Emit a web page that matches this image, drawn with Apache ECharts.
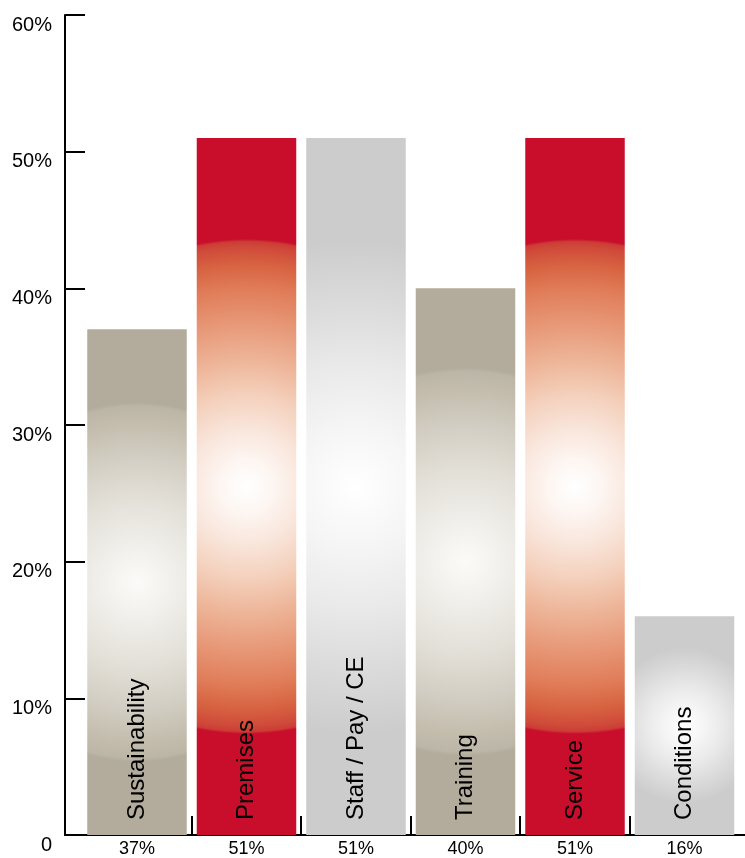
<!DOCTYPE html>
<html>
<head>
<meta charset="utf-8">
<script src="https://cdn.jsdelivr.net/npm/echarts@6/dist/echarts.min.js"></script>
<style>
  html, body { margin: 0; padding: 0; background: #ffffff; }
  #chart { width: 745px; height: 858px; }
</style>
</head>
<body>
<div id="chart"></div>
<script>
// Survey topics and the share of responses for each
const categories = ['Sustainability', 'Premises', 'Staff / Pay / CE', 'Training', 'Service', 'Conditions'];
const shares = [37, 51, 51, 40, 51, 16];
const yTickValues = [0, 10, 20, 30, 40, 50, 60];

// Fill family of each bar (styling)
const barFill = ['sand', 'red', 'grey', 'sand', 'red', 'grey'];

// Radial ramps: white glow in the middle of each bar fading to its base colour
const ramps = {
  red: [
    [0.000, '#ffffff'], [0.107, '#fdf6f2'], [0.230, '#f9e6dc'], [0.373, '#f4d0bc'],
    [0.496, '#eeb89c'], [0.639, '#e89c7c'], [0.803, '#e07c58'], [0.906, '#d66040'],
    [0.967, '#d04a3a'], [0.990, '#cc3c36'], [1.000, '#c90e2c']
  ],
  sand: [
    [0.000, '#fbfaf8'], [0.070, '#f8f7f4'], [0.244, '#efede8'], [0.477, '#e2dfd7'],
    [0.709, '#d2cdc2'], [0.884, '#c4bdae'], [0.980, '#bcb6a8'], [1.000, '#b3ac9c']
  ],
  grey: [
    [0.000, '#ffffff'], [0.250, '#f5f5f5'], [0.500, '#e9e9e9'], [0.700, '#dddddd'],
    [0.880, '#d3d3d3'], [1.000, '#cccccc']
  ]
};

const FONT = '"Liberation Sans", Arial, Helvetica, sans-serif';
const BAR_RATIO = 99.5 / 109.5;
const GLOW_RADIUS = 0.355;   // glow radius as a fraction of the bar height

const chart = echarts.init(document.getElementById('chart'), null, { renderer: 'canvas' });

function renderBar(params, api) {
  const i = api.value(0);
  const v = api.value(1);
  const top = api.coord([i, v]);
  const base = api.coord([i, 0]);
  const w = api.size([1, 0])[0] * BAR_RATIO;
  const h = base[1] - top[1];
  const cx = top[0];
  const stops = ramps[barFill[params.dataIndex]].map(([o, c]) => ({ offset: o, color: c }));

  return {
    type: 'group',
    children: [
      {
        type: 'rect',
        shape: { x: cx - w / 2, y: top[1], width: w, height: h },
        style: {
          fill: {
            type: 'radial', x: 0.5, y: 0.5,
            r: GLOW_RADIUS * h / Math.min(w, h),
            colorStops: stops
          }
        }
      },
      {
        type: 'text',
        x: cx,
        y: base[1] - 15,
        rotation: Math.PI / 2,
        style: {
          text: categories[params.dataIndex],
          font: '24px ' + FONT,
          fill: '#000000',
          align: 'left',
          verticalAlign: 'middle'
        }
      }
    ]
  };
}

const option = {
  backgroundColor: '#ffffff',
  animation: false,
  grid: { left: 65, right: 0, top: 15, bottom: 22, containLabel: false },
  xAxis: {
    type: 'value',
    min: -0.6575,
    max: 5.5525,
    splitLine: { show: false },
    axisLine: { show: true, onZero: false, lineStyle: { color: '#000000', width: 2 } },
    axisTick: {
      show: true,
      inside: true,
      length: 19,
      lineStyle: { color: '#000000', width: 2 },
      customValues: [0.5, 1.5, 2.5, 3.5, 4.5]
    },
    axisLabel: {
      show: true,
      customValues: categories.map((c, i) => i),
      formatter: (val) => shares[Math.round(val)] + '%',
      color: '#000000',
      fontFamily: FONT,
      fontSize: 18,
      margin: 5,
      verticalAlign: 'top'
    }
  },
  yAxis: {
    type: 'value',
    min: yTickValues[0],
    max: yTickValues[yTickValues.length - 1],
    interval: 10,
    splitLine: { show: false },
    axisLine: { show: true, onZero: false, lineStyle: { color: '#000000', width: 2 } },
    axisTick: { show: true, inside: true, length: 20, lineStyle: { color: '#000000', width: 2 } },
    axisLabel: {
      color: '#000000',
      fontFamily: FONT,
      fontSize: 20,
      margin: 13,
      verticalAlign: 'top',
      formatter: (val) => (val === 0 ? '0' : val + '%')
    }
  },
  series: [
    {
      type: 'custom',
      renderItem: renderBar,
      encode: { x: 0, y: 1 },
      data: categories.map((c, i) => [i, shares[i]]),
      clip: false
    }
  ]
};

chart.setOption(option);
</script>
</body>
</html>
